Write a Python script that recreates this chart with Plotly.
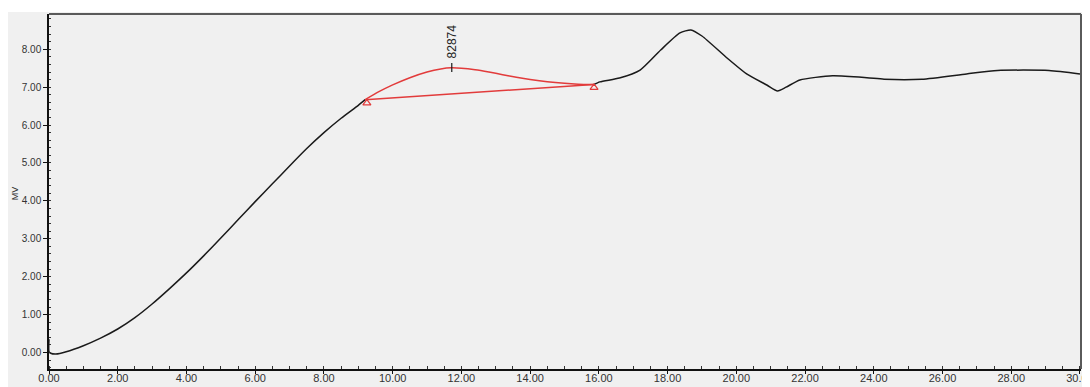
import plotly.graph_objects as go

# Main chromatogram trace (black)
main_x1 = [0.0, 0.0, 0.05, 0.2, 0.5, 1.0, 1.5, 2.0, 2.5, 3.0, 3.5, 4.0, 4.5, 5.0, 5.5, 6.0,
           6.5, 7.0, 7.5, 8.0, 8.5, 9.0, 9.2]
main_y1 = [0.35, 0.02, -0.02, -0.04, 0.02, 0.18, 0.38, 0.62, 0.92, 1.28, 1.68, 2.1, 2.55,
           3.02, 3.5, 3.98, 4.45, 4.92, 5.38, 5.8, 6.18, 6.52, 6.67]
main_x2 = [15.85, 16.03, 16.6, 17.2, 17.8, 18.36, 18.68, 19.0, 19.73, 20.3, 20.9, 21.2,
           21.45, 21.85, 22.8, 23.8, 24.3, 25.4, 26.7, 27.6, 29.1, 30.0]
main_y2 = [7.07, 7.14, 7.24, 7.45, 7.98, 8.43, 8.51, 8.35, 7.77, 7.35, 7.05, 6.90,
           7.0, 7.19, 7.30, 7.25, 7.21, 7.21, 7.35, 7.44, 7.44, 7.35]

# Integrated peak (red)
peak_x = [9.2, 9.6, 10.0, 10.5, 11.0, 11.4, 11.7, 12.0, 12.4, 12.8, 13.2, 13.6, 14.0,
          14.5, 15.0, 15.4, 15.85]
peak_y = [6.67, 6.88, 7.06, 7.25, 7.40, 7.48, 7.51, 7.50, 7.46, 7.40, 7.33, 7.26, 7.20,
          7.14, 7.10, 7.08, 7.07]
baseline_x = [9.2, 15.85]
baseline_y = [6.67, 7.07]
marker_x = [9.25, 15.86]
marker_y = [6.58, 6.99]
apex_x = 11.72
apex_tick_y = [7.40, 7.64]
peak_label = "82874"

x_ticks = [0, 2, 4, 6, 8, 10, 12, 14, 16, 18, 20, 22, 24, 26, 28, 30]
y_ticks = [0, 1, 2, 3, 4, 5, 6, 7, 8]

fig = go.Figure()
fig.add_trace(go.Scatter(x=main_x1, y=main_y1, mode="lines",
                         line=dict(color="#1a1a1a", width=1.5, shape="spline", smoothing=0.6)))
fig.add_trace(go.Scatter(x=main_x2, y=main_y2, mode="lines",
                         line=dict(color="#1a1a1a", width=1.5, shape="spline", smoothing=0.6)))
fig.add_trace(go.Scatter(x=peak_x, y=peak_y, mode="lines",
                         line=dict(color="#e23b3b", width=1.5, shape="spline", smoothing=0.6)))
fig.add_trace(go.Scatter(x=baseline_x, y=baseline_y, mode="lines",
                         line=dict(color="#e23b3b", width=1.5)))
fig.add_trace(go.Scatter(x=marker_x, y=marker_y, mode="markers",
                         marker=dict(symbol="triangle-up-open", size=7, color="#e23b3b",
                                     line=dict(width=1.2))))
fig.add_trace(go.Scatter(x=[apex_x, apex_x], y=apex_tick_y, mode="lines",
                         line=dict(color="#1a1a1a", width=1.2)))

fig.add_annotation(x=apex_x, y=apex_tick_y[1] + 0.06, text=peak_label, textangle=-90,
                   showarrow=False, xanchor="center", yanchor="bottom",
                   font=dict(family="Liberation Sans, Arial", size=12, color="#222"))
fig.add_annotation(x=-0.0335, y=0.496, xref="paper", yref="paper", text="MV", textangle=-90,
                   showarrow=False, xanchor="center", yanchor="middle",
                   font=dict(family="Liberation Sans, Arial", size=9, color="#333"))

# white strip at the very top, top/right frame of the plot area
fig.add_shape(type="rect", xref="paper", yref="paper", x0=-0.05, x1=1.02, y0=1.0056, y1=1.02,
              fillcolor="white", line=dict(width=0), layer="below")
fig.add_shape(type="line", xref="paper", yref="paper", x0=0, x1=1, y0=1, y1=1,
              line=dict(color="#5a5a5a", width=2))
fig.add_shape(type="line", xref="paper", yref="paper", x0=1, x1=1, y0=0, y1=1,
              line=dict(color="#5a5a5a", width=2))

fig.update_layout(
    width=1082, height=379,
    margin=dict(l=41, r=9, t=6, b=18, autoexpand=False),
    paper_bgcolor="#f0f0f0", plot_bgcolor="#f0f0f0",
    showlegend=False,
    font=dict(family="Liberation Sans, Arial", size=11, color="#333"),
)
fig.update_xaxes(range=[0, 30.03], tickvals=x_ticks, ticktext=[f"{v:.2f}" for v in x_ticks],
                 showgrid=False, zeroline=False, showline=True, linecolor="#111", linewidth=1.5,
                 ticks="outside", ticklen=3, tickcolor="#111", automargin=False,
                 ticklabelstandoff=-5, ticklabeloverflow="allow",
                 minor=dict(dtick=0.5, ticks="inside", ticklen=3, tickcolor="#333"),
                 tickfont=dict(size=11, color="#333"))
fig.update_yaxes(range=[-0.435, 8.93], tickvals=y_ticks, ticktext=[f"{v:.2f}" for v in y_ticks],
                 showgrid=False, zeroline=False, showline=True, linecolor="#111", linewidth=1.5,
                 ticks="outside", ticklen=4, tickcolor="#111", automargin=False,
                 minor=dict(dtick=0.2, ticks="inside", ticklen=2, tickcolor="#333"),
                 tickfont=dict(size=10, color="#333"))

fig.write_html("out.html")
